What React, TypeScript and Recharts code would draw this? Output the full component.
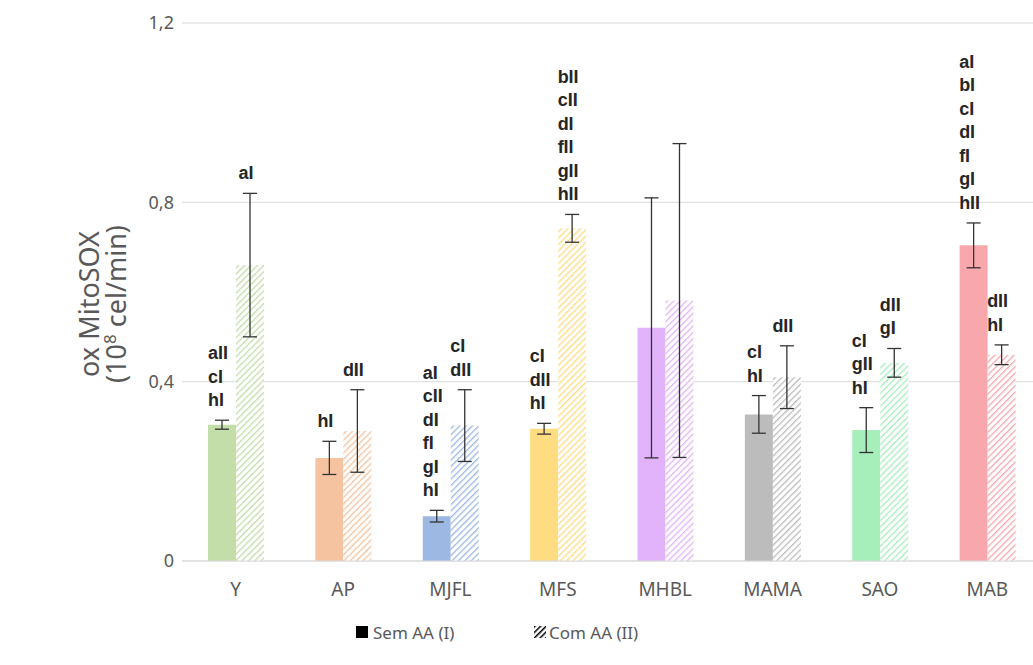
import { BarChart, Bar, XAxis, YAxis, CartesianGrid, ErrorBar, Cell, LabelList, Legend } from 'recharts';

const categories = ['Y', 'AP', 'MJFL', 'MFS', 'MHBL', 'MAMA', 'SAO', 'MAB'];
const semAA = [0.304, 0.23, 0.1, 0.295, 0.52, 0.327, 0.292, 0.704];
const semAAErr = [0.01, 0.037, 0.013, 0.012, 0.29, 0.042, 0.05, 0.05];
const comAA = [0.66, 0.29, 0.302, 0.742, 0.581, 0.41, 0.442, 0.46];
const comAAErr = [0.16, 0.092, 0.08, 0.031, 0.35, 0.07, 0.032, 0.022];
const colors = ['#c3dea9', '#f6c3a0', '#9db8e2', '#fddc82', '#e2b3fa', '#bcbcbc', '#a6efbb', '#f8a7ad'];
const semTags = [
    ['aII', 'cI', 'hI'],
    ['hI'],
    ['aI', 'cII', 'dI', 'fI', 'gI', 'hI'],
    ['cI', 'dII', 'hI'],
    [],
    ['cI', 'hI'],
    ['cI', 'gII', 'hI'],
    ['aI', 'bI', 'cI', 'dI', 'fI', 'gI', 'hII'],
];
const comTags = [
    ['aI'],
    ['dII'],
    ['cI', 'dII'],
    ['bII', 'cII', 'dI', 'fII', 'gII', 'hII'],
    [],
    ['dII'],
    ['dII', 'gI'],
    ['dII', 'hI'],
];
const yTicks = [0, 0.4, 0.8, 1.2];

const data = categories.map((name, i) => ({
    name,
    sem: semAA[i],
    semErr: semAAErr[i],
    com: comAA[i],
    comErr: comAAErr[i],
}));

const FONT = 'Noto Sans, sans-serif';

// rough glyph widths for 18px bold Liberation Sans
const charW: Record<string, number> = { a: 10, b: 11, c: 10, d: 11, f: 6, g: 11, h: 11, I: 5 };
const textWidth = (s: string) => s.split('').reduce((w, ch) => w + (charW[ch] ?? 10), 0);

const makeTagLabel = (tags: string[][], values: number[], errs: number[]) => (props: any) => {
    const { index } = props;
    const x = Number(props.x);
    const y = Number(props.y);
    const width = Number(props.width);
    const height = Number(props.height);
    const list = tags[index];
    if (!list || !list.length) return null;
    const pxPer = height / values[index];
    const errTop = y - errs[index] * pxPer;
    const w = Math.max(...list.map(textWidth));
    const left = x + width / 2 - w / 2 - 4;
    return (
        <text fontFamily="Liberation Sans, Arial, sans-serif" fontWeight="bold" fontSize={18} fill="#262626">
            {list.map((t, i) => (
                <tspan key={i} x={left} y={errTop - 14 - (list.length - 1 - i) * 23.5}>{t}</tspan>
            ))}
        </text>
    );
};

const CustomLegend = () => (
    <div style={{ position: 'relative', height: 30, top: -4, fontFamily: FONT, fontSize: 17, color: '#595959' }}>
        <div style={{ position: 'absolute', left: 356, top: 0, display: 'flex', alignItems: 'center' }}>
            <svg width={13} height={13} style={{ marginRight: 4 }}><rect width={12} height={12} fill="#000" /></svg>
            <span>Sem AA (I)</span>
        </div>
        <div style={{ position: 'absolute', left: 534, top: 0, display: 'flex', alignItems: 'center' }}>
            <svg width={13} height={13} style={{ marginRight: 2 }}>
                <rect width={12} height={12} fill="url(#legendHatch)" />
            </svg>
            <span>Com AA (II)</span>
        </div>
    </div>
);

const YLabel = (props: any) => {
    const cy = props.viewBox.y + props.viewBox.height / 2 + 12;
    return (
        <g fontFamily={FONT} fontSize={27} fill="#595959">
            <text x={99} y={cy} transform={`rotate(-90, 99, ${cy})`} textAnchor="middle">ox MitoSOX</text>
            <text x={126} y={cy} transform={`rotate(-90, 126, ${cy})`} textAnchor="middle">
                (10<tspan fontSize={17} dy={-10}>8</tspan><tspan dy={10}> cel/min)</tspan>
            </text>
        </g>
    );
};

const App = () => {
    return (
        <div style={{ position: 'absolute', left: 0, top: 0, width: 1033, height: 665, overflow: 'hidden', background: '#fff' }}>
            <BarChart
                width={1041}
                height={665}
                data={data}
                margin={{ top: 23, right: 0, left: 0, bottom: 10 }}
                barGap={0}
                barSize={28}
            >
                <defs>
                    {colors.map((c, i) => (
                        <pattern key={i} id={`hatch-${i}`} width={4.5} height={4.5} patternUnits="userSpaceOnUse" patternTransform="rotate(45)">
                            <rect width={4.5} height={4.5} fill="#fff" />
                            <line x1={0} y1={0} x2={0} y2={4.5} stroke={c} strokeWidth={2.6} />
                        </pattern>
                    ))}
                    <pattern id="legendHatch" width={4} height={4} patternUnits="userSpaceOnUse" patternTransform="rotate(45)">
                        <rect width={4} height={4} fill="#fff" />
                        <line x1={0} y1={0} x2={0} y2={4} stroke="#000" strokeWidth={3} />
                    </pattern>
                </defs>
                <CartesianGrid vertical={false} stroke="#d9d9d9" />
                <XAxis
                    dataKey="name"
                    axisLine={{ stroke: '#d9d9d9' }}
                    tickLine={false}
                    tickMargin={16}
                    height={64}
                    tick={{ fontSize: 19, fill: '#595959', fontFamily: FONT }}
                />
                <YAxis
                    domain={[0, 1.2]}
                    ticks={yTicks}
                    width={182}
                    axisLine={false}
                    tickLine={false}
                    tickFormatter={(v: number) => String(v).replace('.', ',')}
                    tick={{ fontSize: 18, fill: '#595959', fontFamily: FONT }}
                    label={<YLabel />}
                />
                <Legend verticalAlign="bottom" content={<CustomLegend />} />
                <Bar dataKey="sem" isAnimationActive={false}>
                    {data.map((_, i) => (
                        <Cell key={i} fill={colors[i]} />
                    ))}
                    <ErrorBar dataKey="semErr" direction="y" width={7} stroke="#333" strokeWidth={1.3} />
                    <LabelList dataKey="sem" content={makeTagLabel(semTags, semAA, semAAErr)} />
                </Bar>
                <Bar dataKey="com" isAnimationActive={false}>
                    {data.map((_, i) => (
                        <Cell key={i} fill={`url(#hatch-${i})`} />
                    ))}
                    <ErrorBar dataKey="comErr" direction="y" width={7} stroke="#333" strokeWidth={1.3} />
                    <LabelList dataKey="com" content={makeTagLabel(comTags, comAA, comAAErr)} />
                </Bar>
            </BarChart>
        </div>
    );
};

export default App;
